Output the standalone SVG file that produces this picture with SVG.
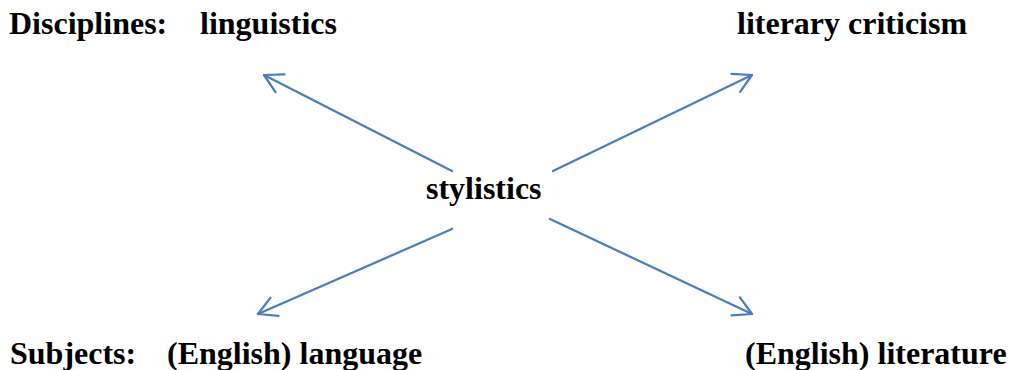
<svg xmlns="http://www.w3.org/2000/svg" width="1009" height="370" viewBox="0 0 1009 370">
<style>
text{font-family:"Liberation Serif","Times New Roman",serif;font-weight:bold;font-size:32px;fill:#000}
.c{stroke:#4A7EBB;stroke-width:2.25;fill:none;stroke-linecap:round}
</style>
<defs>
<marker id="ah" markerUnits="userSpaceOnUse" markerWidth="30" markerHeight="30" viewBox="-22 -15 30 30" refX="0" refY="0" orient="auto" overflow="visible">
<path d="M-18,-10 L0,0 L-18,10" fill="none" stroke="#4A7EBB" stroke-width="2.25" stroke-linecap="round" stroke-linejoin="round"/>
</marker>
</defs>
<rect width="1009" height="370" fill="#fff"/>
<g id="connectors">
<line class="c" x1="452" y1="171" x2="264" y2="75" marker-end="url(#ah)"/>
<line class="c" x1="553" y1="171" x2="752" y2="75" marker-end="url(#ah)"/>
<line class="c" x1="452" y1="229" x2="258" y2="314" marker-end="url(#ah)"/>
<line class="c" x1="550" y1="219" x2="752" y2="314" marker-end="url(#ah)"/>
</g>
<g id="label-disciplines"><text x="9" y="34">Disciplines:</text></g>
<g id="node-linguistics"><text x="200" y="34">linguistics</text></g>
<g id="node-literary-criticism"><text x="737" y="34">literary criticism</text></g>
<g id="node-stylistics"><text x="426" y="199">stylistics</text></g>
<g id="label-subjects"><text x="10" y="364">Subjects:</text></g>
<g id="node-english-language"><text x="167" y="364">(English) language</text></g>
<g id="node-english-literature"><text x="745" y="364">(English) literature</text></g>
</svg>
